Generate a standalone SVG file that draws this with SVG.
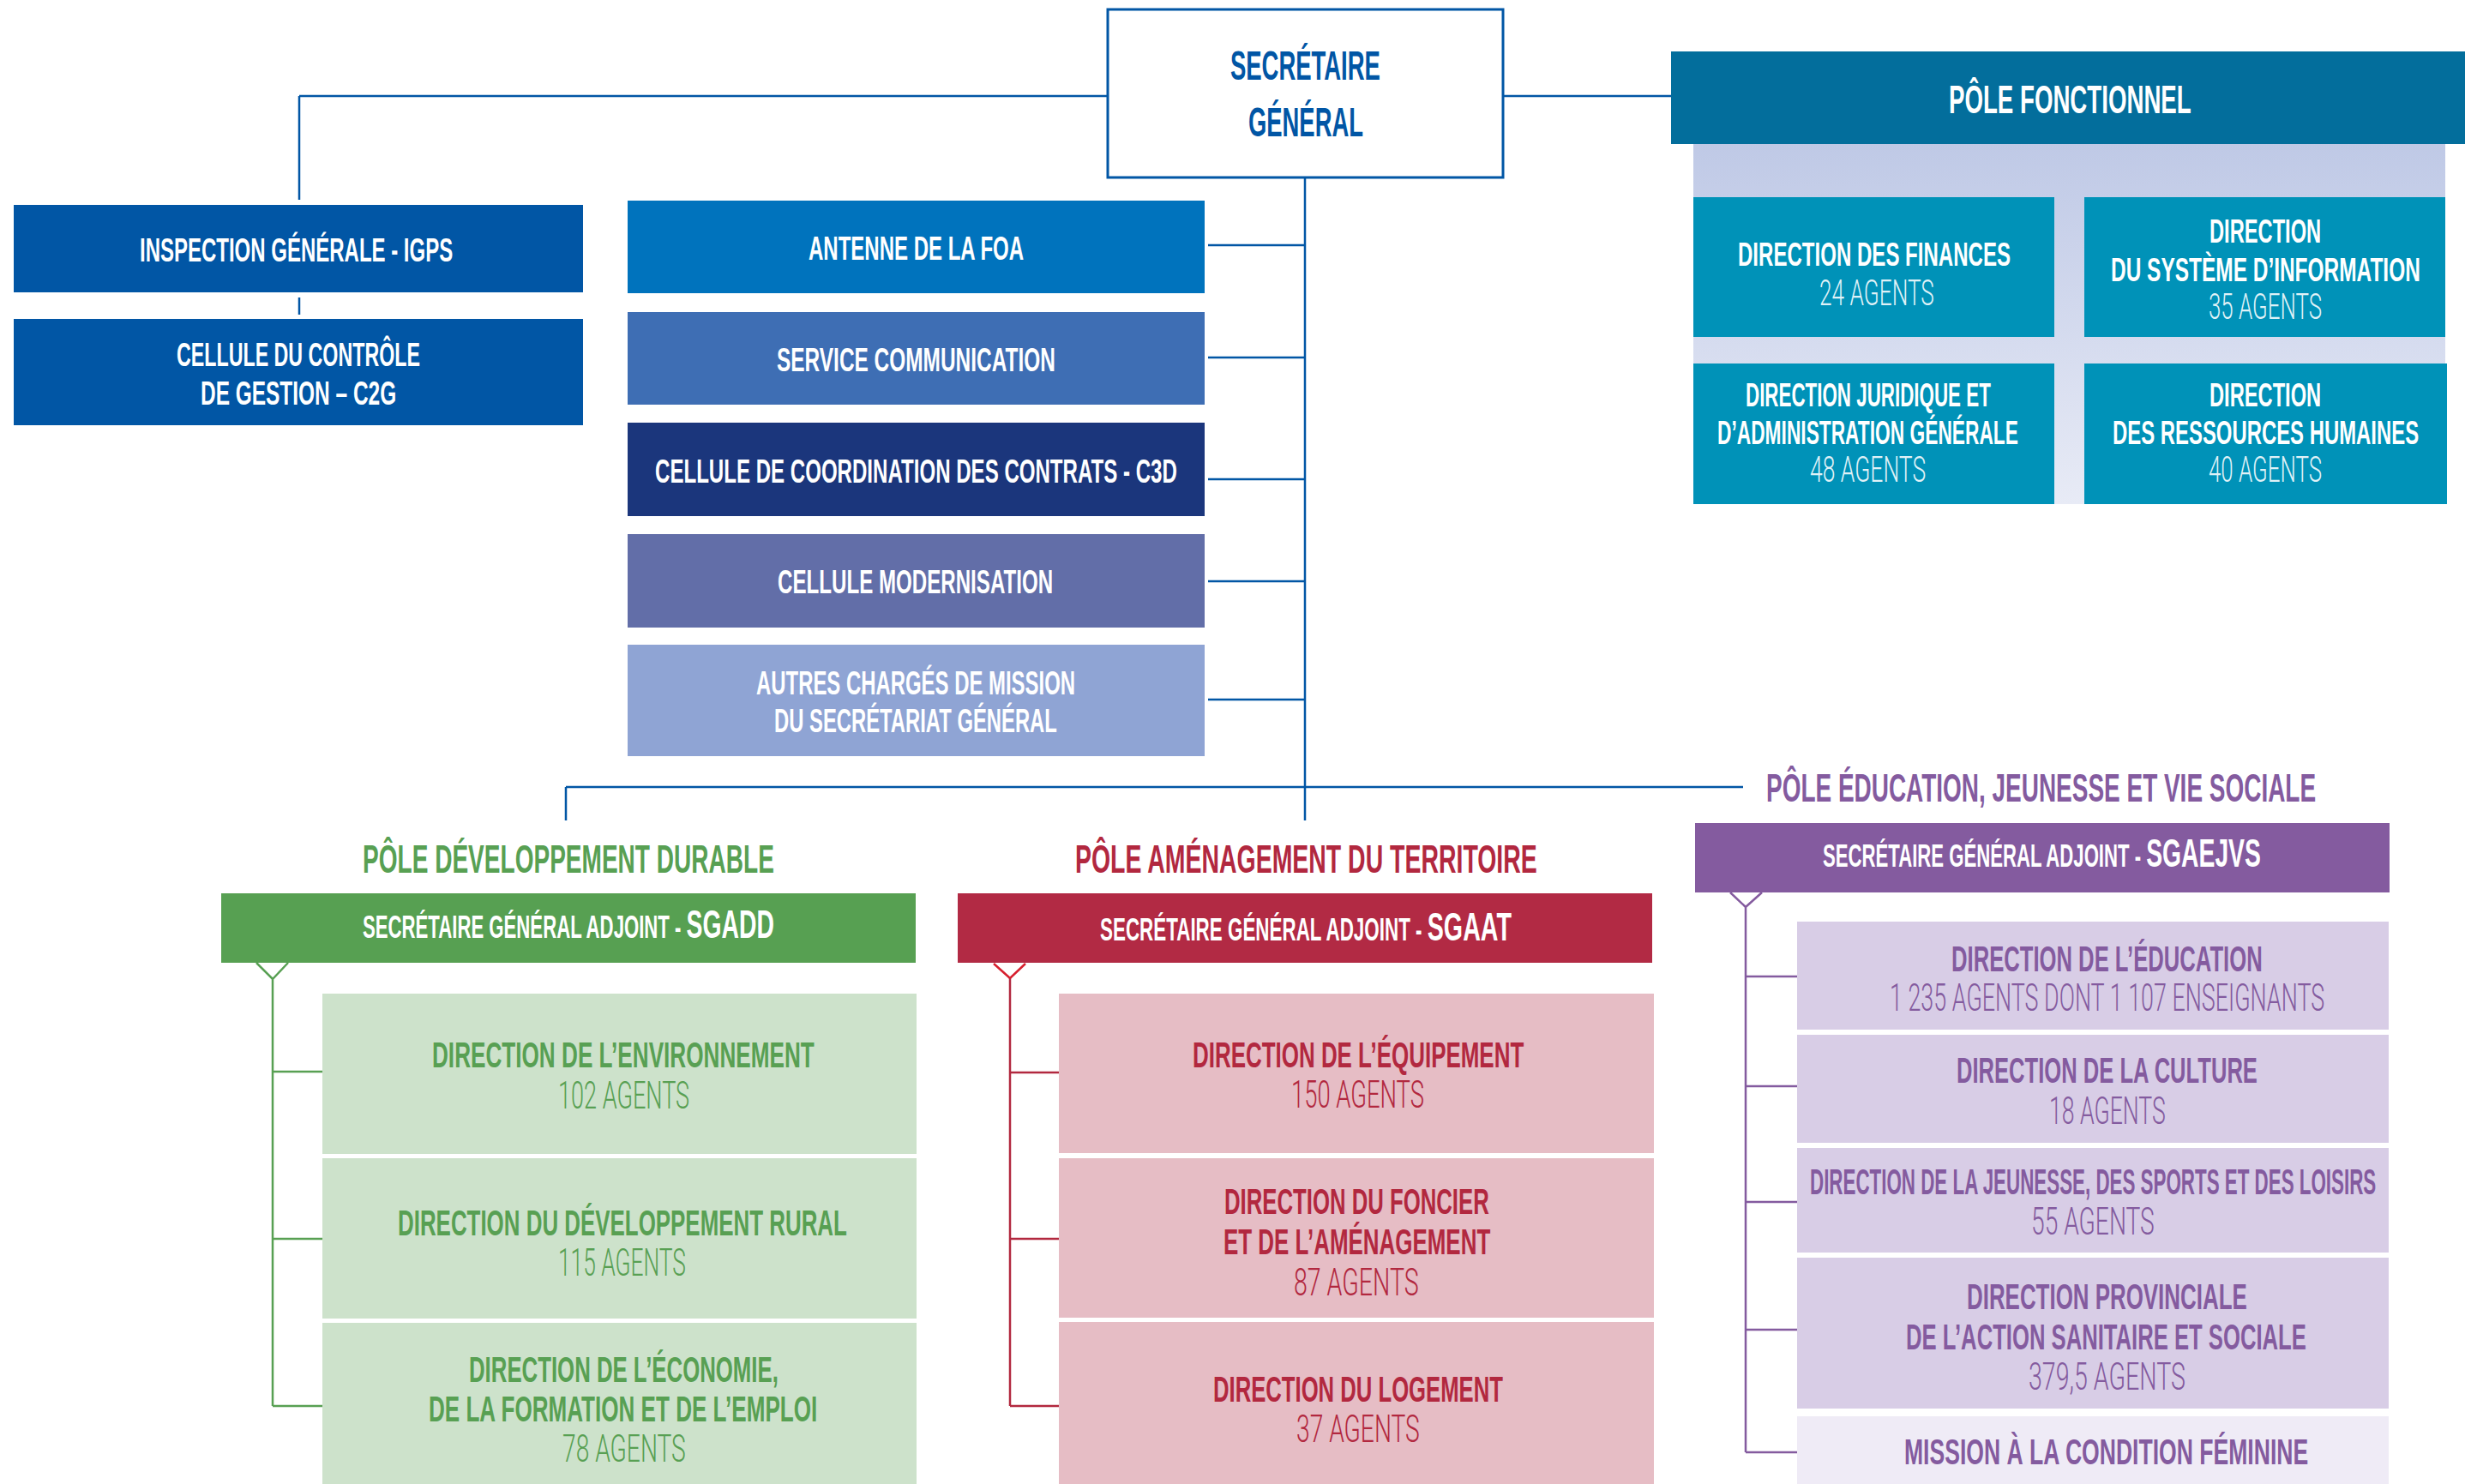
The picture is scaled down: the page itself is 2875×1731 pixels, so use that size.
<svg xmlns="http://www.w3.org/2000/svg" width="2875" height="1731" viewBox="0 0 2875 1731">
<style>
text{font-family:"Liberation Sans",Arial,sans-serif;font-weight:700}
.lt{font-family:Roboto,"Liberation Sans",sans-serif;font-weight:300}
.w{fill:#ffffff}
.wl{fill:#dff1f7}
.b{fill:#0156A5}
.g{fill:#58A053}
.r{fill:#B2283F}
.p{fill:#845B9F}
.s28{font-size:39px}
.s31{font-size:43px}
.s33{font-size:46px}
.s35{font-size:49px}
.s26{font-size:36px}
.l30{font-size:42px}
.l32{font-size:45px}
.cn{fill:none;stroke-width:2.5}
.cb{stroke:#0156A5}
.cg{stroke:#58A053}
.cr{stroke:#B2283F}
.cp{stroke:#845B9F}
</style>
<defs>
<linearGradient id="fbg" x1="0" y1="0" x2="0" y2="1">
<stop offset="0" stop-color="#BFC9E6"/>
<stop offset="1" stop-color="#E8EBF6"/>
</linearGradient>
</defs>
<rect width="2875" height="1731" fill="#ffffff"/>

<g id="connectors">
<path class="cn cb" d="M349,112 H1291 M1754,112 H1949 M349,112 V233 M349,347 V367 M1522,208 V957 M1409,286 H1522 M1409,417 H1522 M1409,559 H1522 M1409,678 H1522 M1409,816 H1522 M660,918 H2033 M660,918 V957"/>
<path class="cn cg" d="M299,1123 L318,1142 L336,1123 M318,1142 V1640 M318,1250 H376 M318,1445 H376 M318,1640 H376"/>
<path class="cn" stroke="#D71F2E" d="M1159,1124 L1178,1141 L1196,1124"/>
<path class="cn cr" d="M1178,1141 V1640 M1178,1251 H1235 M1178,1445 H1235 M1178,1640 H1235"/>
<path class="cn cp" d="M2018,1041 L2036,1058 L2055,1041 M2036,1058 V1694 M2036,1139 H2096 M2036,1267 H2096 M2036,1402 H2096 M2036,1551 H2096 M2036,1694 H2096"/>
</g>

<g id="sg">
<rect x="1292" y="11" width="461" height="196" fill="#ffffff" stroke="#0156A5" stroke-width="3"/>
<text class="b s35" transform="matrix(.62 0 0 1 1435 93)" textLength="282" lengthAdjust="spacingAndGlyphs">SECRÉTAIRE</text>
<text class="b s35" transform="matrix(.62 0 0 1 1456 159)" textLength="216" lengthAdjust="spacingAndGlyphs">GÉNÉRAL</text>
</g>

<g id="igps">
<rect x="16" y="239" width="664" height="102" fill="#0156A5"/>
<text class="w s28" transform="matrix(.62 0 0 1 163 305)" textLength="589" lengthAdjust="spacingAndGlyphs">INSPECTION GÉNÉRALE - IGPS</text>
</g>
<g id="c2g">
<rect x="16" y="372" width="664" height="124" fill="#0156A5"/>
<text class="w s28" transform="matrix(.62 0 0 1 206 427)" textLength="458" lengthAdjust="spacingAndGlyphs">CELLULE DU CONTRÔLE</text>
<text class="w s28" transform="matrix(.62 0 0 1 234 472)" textLength="368" lengthAdjust="spacingAndGlyphs">DE GESTION – C2G</text>
</g>

<g id="antenne">
<rect x="732" y="234" width="673" height="108" fill="#0073BD"/>
<text class="w s28" transform="matrix(.62 0 0 1 943 303)" textLength="405" lengthAdjust="spacingAndGlyphs">ANTENNE DE LA FOA</text>
</g>
<g id="communication">
<rect x="732" y="364" width="673" height="108" fill="#3E6EB4"/>
<text class="w s28" transform="matrix(.62 0 0 1 906 433)" textLength="524" lengthAdjust="spacingAndGlyphs">SERVICE COMMUNICATION</text>
</g>
<g id="c3d">
<rect x="732" y="493" width="673" height="109" fill="#1B367C"/>
<text class="w s28" transform="matrix(.62 0 0 1 764 563)" textLength="982" lengthAdjust="spacingAndGlyphs">CELLULE DE COORDINATION DES CONTRATS - C3D</text>
</g>
<g id="modernisation">
<rect x="732" y="623" width="673" height="109" fill="#626EA8"/>
<text class="w s28" transform="matrix(.62 0 0 1 907 692)" textLength="518" lengthAdjust="spacingAndGlyphs">CELLULE MODERNISATION</text>
</g>
<g id="autres">
<rect x="732" y="752" width="673" height="130" fill="#8FA4D4"/>
<text class="w s28" transform="matrix(.62 0 0 1 882 810)" textLength="600" lengthAdjust="spacingAndGlyphs">AUTRES CHARGÉS DE MISSION</text>
<text class="w s28" transform="matrix(.62 0 0 1 903 854)" textLength="532" lengthAdjust="spacingAndGlyphs">DU SECRÉTARIAT GÉNÉRAL</text>
</g>

<g id="pole-fonctionnel">
<rect x="1975" y="168" width="877" height="420" fill="url(#fbg)"/>
<rect x="1949" y="60" width="926" height="108" fill="#036E9C"/>
<text class="w s33" transform="matrix(.62 0 0 1 2273 132)" textLength="456" lengthAdjust="spacingAndGlyphs">PÔLE FONCTIONNEL</text>
</g>
<g id="finances">
<rect x="1975" y="230" width="421" height="163" fill="#0092B8"/>
<text class="w s28" transform="matrix(.62 0 0 1 2027 310)" textLength="513" lengthAdjust="spacingAndGlyphs">DIRECTION DES FINANCES</text>
<text class="wl lt l30" transform="matrix(.62 0 0 1 2122 356)" textLength="216" lengthAdjust="spacingAndGlyphs">24 AGENTS</text>
</g>
<g id="si">
<rect x="2431" y="230" width="421" height="163" fill="#0092B8"/>
<text class="w s28" transform="matrix(.62 0 0 1 2577 283)" textLength="210" lengthAdjust="spacingAndGlyphs">DIRECTION</text>
<text class="w s28" transform="matrix(.62 0 0 1 2462 328)" textLength="582" lengthAdjust="spacingAndGlyphs">DU SYSTÈME D’INFORMATION</text>
<text class="wl lt l30" transform="matrix(.62 0 0 1 2576 372)" textLength="213" lengthAdjust="spacingAndGlyphs">35 AGENTS</text>
</g>
<g id="juridique">
<rect x="1975" y="424" width="421" height="164" fill="#0092B8"/>
<text class="w s28" transform="matrix(.62 0 0 1 2036 474)" textLength="461" lengthAdjust="spacingAndGlyphs">DIRECTION JURIDIQUE ET</text>
<text class="w s28" transform="matrix(.62 0 0 1 2003 518)" textLength="566" lengthAdjust="spacingAndGlyphs">D’ADMINISTRATION GÉNÉRALE</text>
<text class="wl lt l30" transform="matrix(.62 0 0 1 2111 562)" textLength="218" lengthAdjust="spacingAndGlyphs">48 AGENTS</text>
</g>
<g id="rh">
<rect x="2431" y="424" width="423" height="164" fill="#0092B8"/>
<text class="w s28" transform="matrix(.62 0 0 1 2577 474)" textLength="210" lengthAdjust="spacingAndGlyphs">DIRECTION</text>
<text class="w s28" transform="matrix(.62 0 0 1 2464 518)" textLength="576" lengthAdjust="spacingAndGlyphs">DES RESSOURCES HUMAINES</text>
<text class="wl lt l30" transform="matrix(.62 0 0 1 2576 562)" textLength="213" lengthAdjust="spacingAndGlyphs">40 AGENTS</text>
</g>

<g id="pole-dd">
<text class="g s33" transform="matrix(.62 0 0 1 423 1018)" textLength="774" lengthAdjust="spacingAndGlyphs">PÔLE DÉVELOPPEMENT DURABLE</text>
<rect x="258" y="1042" width="810" height="81" fill="#57A052"/>
<text class="w" transform="matrix(.62 0 0 1 423 1094)" textLength="774" lengthAdjust="spacingAndGlyphs"><tspan class="s26">SECRÉTAIRE GÉNÉRAL ADJOINT - </tspan><tspan class="s33">SGADD</tspan></text>
</g>
<g id="environnement">
<rect x="376" y="1159" width="693" height="187" fill="#CDE2CB"/>
<text class="g s31" transform="matrix(.62 0 0 1 504 1245)" textLength="719" lengthAdjust="spacingAndGlyphs">DIRECTION DE L’ENVIRONNEMENT</text>
<text class="g lt l32" transform="matrix(.62 0 0 1 651 1293)" textLength="247" lengthAdjust="spacingAndGlyphs">102 AGENTS</text>
</g>
<g id="rural">
<rect x="376" y="1351" width="693" height="187" fill="#CDE2CB"/>
<text class="g s31" transform="matrix(.62 0 0 1 464 1441)" textLength="845" lengthAdjust="spacingAndGlyphs">DIRECTION DU DÉVELOPPEMENT RURAL</text>
<text class="g lt l32" transform="matrix(.62 0 0 1 651 1488)" textLength="240" lengthAdjust="spacingAndGlyphs">115 AGENTS</text>
</g>
<g id="economie">
<rect x="376" y="1543" width="693" height="188" fill="#CDE2CB"/>
<text class="g s31" transform="matrix(.62 0 0 1 547 1612)" textLength="582" lengthAdjust="spacingAndGlyphs">DIRECTION DE L’ÉCONOMIE,</text>
<text class="g s31" transform="matrix(.62 0 0 1 500 1658)" textLength="731" lengthAdjust="spacingAndGlyphs">DE LA FORMATION ET DE L’EMPLOI</text>
<text class="g lt l32" transform="matrix(.62 0 0 1 656 1705)" textLength="232" lengthAdjust="spacingAndGlyphs">78 AGENTS</text>
</g>

<g id="pole-at">
<text class="r s33" transform="matrix(.62 0 0 1 1254 1018)" textLength="869" lengthAdjust="spacingAndGlyphs">PÔLE AMÉNAGEMENT DU TERRITOIRE</text>
<rect x="1117" y="1042" width="810" height="81" fill="#B22A44"/>
<text class="w" transform="matrix(.62 0 0 1 1283 1097)" textLength="774" lengthAdjust="spacingAndGlyphs"><tspan class="s26">SECRÉTAIRE GÉNÉRAL ADJOINT - </tspan><tspan class="s33">SGAAT</tspan></text>
</g>
<g id="equipement">
<rect x="1235" y="1159" width="694" height="186" fill="#E6BDC5"/>
<text class="r s31" transform="matrix(.62 0 0 1 1391 1245)" textLength="623" lengthAdjust="spacingAndGlyphs">DIRECTION DE L’ÉQUIPEMENT</text>
<text class="r lt l32" transform="matrix(.62 0 0 1 1506 1292)" textLength="250" lengthAdjust="spacingAndGlyphs">150 AGENTS</text>
</g>
<g id="foncier">
<rect x="1235" y="1351" width="694" height="186" fill="#E6BDC5"/>
<text class="r s31" transform="matrix(.62 0 0 1 1428 1416)" textLength="498" lengthAdjust="spacingAndGlyphs">DIRECTION DU FONCIER</text>
<text class="r s31" transform="matrix(.62 0 0 1 1427 1463)" textLength="502" lengthAdjust="spacingAndGlyphs">ET DE L’AMÉNAGEMENT</text>
<text class="r lt l32" transform="matrix(.62 0 0 1 1509 1511)" textLength="235" lengthAdjust="spacingAndGlyphs">87 AGENTS</text>
</g>
<g id="logement">
<rect x="1235" y="1542" width="694" height="189" fill="#E6BDC5"/>
<text class="r s31" transform="matrix(.62 0 0 1 1415 1635)" textLength="545" lengthAdjust="spacingAndGlyphs">DIRECTION DU LOGEMENT</text>
<text class="r lt l32" transform="matrix(.62 0 0 1 1512 1682)" textLength="232" lengthAdjust="spacingAndGlyphs">37 AGENTS</text>
</g>

<g id="pole-ejvs">
<text class="p s33" transform="matrix(.62 0 0 1 2060 935)" textLength="1034" lengthAdjust="spacingAndGlyphs">PÔLE ÉDUCATION, JEUNESSE ET VIE SOCIALE</text>
<rect x="1977" y="960" width="810" height="81" fill="#845B9F"/>
<text class="w" transform="matrix(.62 0 0 1 2126 1011)" textLength="824" lengthAdjust="spacingAndGlyphs"><tspan class="s26">SECRÉTAIRE GÉNÉRAL ADJOINT - </tspan><tspan class="s33">SGAEJVS</tspan></text>
</g>
<g id="education">
<rect x="2096" y="1075" width="690" height="126" fill="#D8CDE6"/>
<text class="p s31" transform="matrix(.62 0 0 1 2276 1133)" textLength="585" lengthAdjust="spacingAndGlyphs">DIRECTION DE L’ÉDUCATION</text>
<text class="p lt l32" transform="matrix(.62 0 0 1 2204 1179)" textLength="818" lengthAdjust="spacingAndGlyphs">1 235 AGENTS DONT 1 107 ENSEIGNANTS</text>
</g>
<g id="culture">
<rect x="2096" y="1207" width="690" height="126" fill="#D8CDE6"/>
<text class="p s31" transform="matrix(.62 0 0 1 2282 1263)" textLength="566" lengthAdjust="spacingAndGlyphs">DIRECTION DE LA CULTURE</text>
<text class="p lt l32" transform="matrix(.62 0 0 1 2390 1311)" textLength="219" lengthAdjust="spacingAndGlyphs">18 AGENTS</text>
</g>
<g id="jeunesse">
<rect x="2096" y="1339" width="690" height="122" fill="#D8CDE6"/>
<text class="p s31" transform="matrix(.56 0 0 1 2111 1393)" textLength="1179" lengthAdjust="spacingAndGlyphs">DIRECTION DE LA JEUNESSE, DES SPORTS ET DES LOISIRS</text>
<text class="p lt l32" transform="matrix(.62 0 0 1 2369 1440)" textLength="232" lengthAdjust="spacingAndGlyphs">55 AGENTS</text>
</g>
<g id="dpass">
<rect x="2096" y="1467" width="690" height="176" fill="#D8CDE6"/>
<text class="p s31" transform="matrix(.62 0 0 1 2294 1527)" textLength="527" lengthAdjust="spacingAndGlyphs">DIRECTION PROVINCIALE</text>
<text class="p s31" transform="matrix(.62 0 0 1 2223 1574)" textLength="753" lengthAdjust="spacingAndGlyphs">DE L’ACTION SANITAIRE ET SOCIALE</text>
<text class="p lt l32" transform="matrix(.62 0 0 1 2366 1621)" textLength="295" lengthAdjust="spacingAndGlyphs">379,5 AGENTS</text>
</g>
<g id="mission">
<rect x="2096" y="1652" width="690" height="79" fill="#EFEBF6"/>
<text class="p s31" transform="matrix(.62 0 0 1 2221 1708)" textLength="760" lengthAdjust="spacingAndGlyphs">MISSION À LA CONDITION FÉMININE</text>
</g>
</svg>
